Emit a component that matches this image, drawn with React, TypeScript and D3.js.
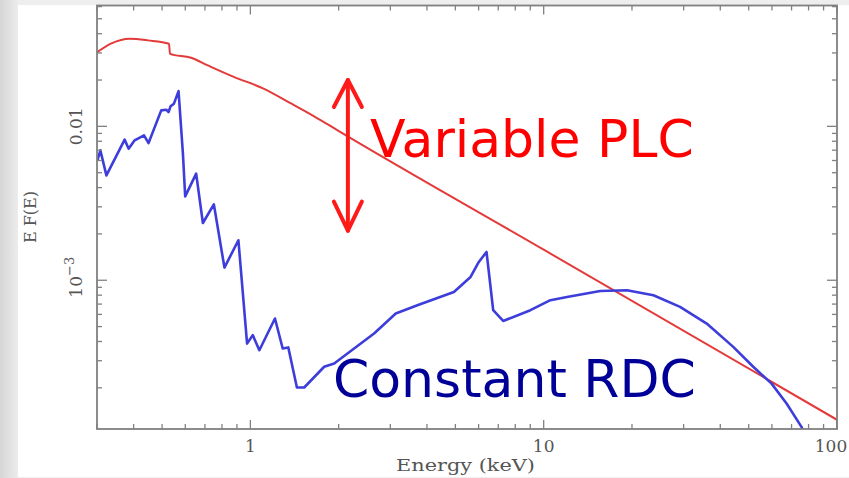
import { useMemo } from "react";
import * as d3 from "d3";

// spectrum: [energy keV, E F(E)]
const plcEnergy = [0.301, 0.336, 0.388, 0.448, 0.528, 0.532, 0.628, 0.716, 0.882, 1.104, 1.375, 1.65, 1.983, 10, 100];
const plcFlux = [0.0304, 0.0346, 0.0371, 0.0362, 0.0344, 0.0296, 0.0279, 0.0249, 0.0209, 0.01766, 0.0141, 0.01162, 0.00942, 0.00158, 1.24e-4];

const rdcEnergy = [
  0.301, 0.308, 0.323, 0.3727, 0.3846, 0.4031, 0.4338, 0.4497, 0.4967, 0.5166, 0.5261, 0.5344, 0.5488, 0.569,
  0.5889, 0.5995, 0.6535, 0.6888, 0.7507, 0.8159, 0.9103, 0.9745, 1.019, 1.073, 1.213, 1.289, 1.347, 1.441,
  1.526, 1.785, 1.931, 2.258, 2.641, 3.131, 3.71, 4.942, 5.633, 6.01, 6.384, 6.55, 6.727, 7.276, 9.01, 10.54,
  12.01, 15.59, 19.22, 23.67, 29.17, 35.96, 44.29, 51.81, 59.84, 67.31, 75.66, 80.7,
];
const rdcFlux = [
  0.00601, 0.00699, 0.0048, 0.0082, 0.00716, 0.00811, 0.00874, 0.00779, 0.0127, 0.01283, 0.01239, 0.01349,
  0.01404, 0.01695, 0.00665, 0.00351, 0.00493, 0.002356, 0.003114, 0.001209, 0.001819, 0.000388, 0.00044,
  0.000351, 0.000564, 0.00036, 0.000366, 0.000201, 0.000201, 0.000274, 0.000288, 0.00036, 0.000451, 0.000608,
  0.000688, 0.000839, 0.00105, 0.001315, 0.001527, 0.001, 0.000639, 0.000544, 0.000639, 0.000742, 0.000779,
  0.000852, 0.000861, 0.000799, 0.000671, 0.000523, 0.000369, 0.000274, 0.000213, 0.000158, 0.0001115, 0.000085,
];

const xDomain = [0.3, 100];
const yDomain = [1.08e-4, 0.061];
const xTickLabels = [
  { v: 1, t: "1" },
  { v: 10, t: "10" },
  { v: 100, t: "100" },
];
// variability arrow (energy, top flux, bottom flux)
const arrowE = 2.15;
const arrowFlux = [0.02, 0.0021];

const W = 849;
const H = 478;
const L = 97, R = 837, T = 5.5, B = 429;

export default function App() {
  const x = useMemo(() => d3.scaleLog().domain(xDomain).range([L, R]), []);
  const y = useMemo(() => d3.scaleLog().domain(yDomain).range([B, T]), []);

  const plc = plcEnergy.map((e, i) => [e, plcFlux[i]] as [number, number]);
  const rdc = rdcEnergy.map((e, i) => [e, rdcFlux[i]] as [number, number]);

  const lineSmooth = d3
    .line<[number, number]>()
    .x((d) => x(d[0]))
    .y((d) => y(d[1]))
    .curve(d3.curveMonotoneX);
  const lineSharp = d3
    .line<[number, number]>()
    .x((d) => x(d[0]))
    .y((d) => y(d[1]));

  const isMajor = (v: number) => Math.abs(Math.log10(v) - Math.round(Math.log10(v))) < 1e-6;
  const xt = x.ticks().filter((v) => v >= xDomain[0] && v <= xDomain[1]);
  const yt = y.ticks().filter((v) => v >= yDomain[0] && v <= yDomain[1]);

  const axisColor = "#808080";
  const labelColor = "#555";
  const ax = x(arrowE);
  const ay0 = y(arrowFlux[0]);
  const ay1 = y(arrowFlux[1]);

  return (
    <div style={{ position: "absolute", left: 0, top: 0 }}>
      <svg width={W} height={H} style={{ display: "block" }}>
        <defs>
          <linearGradient id="edge" x1="0" x2="1" y1="0" y2="0">
            <stop offset="0" stopColor="#d6d6d6" />
            <stop offset="1" stopColor="#ececec" />
          </linearGradient>
          <clipPath id="plot">
            <rect x={L} y={T} width={R - L} height={B - T} />
          </clipPath>
        </defs>
        <rect width={W} height={H} fill="#eeeeee" />
        <rect width={18} height={H} fill="url(#edge)" />
        <rect x={18} y={5} width={W - 18} height={472} fill="#ffffff" />

        {/* curves */}
        <g clipPath="url(#plot)" fill="none" strokeLinejoin="round">
          <path d={lineSmooth(plc) || ""} stroke="#e43a3a" strokeWidth={2} />
          <path d={lineSharp(rdc) || ""} stroke="#3d3ddc" strokeWidth={2.6} />
        </g>

        {/* frame */}
        <rect x={L} y={T} width={R - L} height={B - T} fill="none" stroke={axisColor} strokeWidth={1.8} />
        <g stroke={axisColor} strokeWidth={1.3}>
          {xt.map((v, i) => {
            const len = isMajor(v) ? 9 : 5;
            return (
              <g key={"x" + i}>
                <line x1={x(v)} x2={x(v)} y1={B} y2={B - len} />
                <line x1={x(v)} x2={x(v)} y1={T} y2={T + len} />
              </g>
            );
          })}
          {yt.map((v, i) => {
            const len = isMajor(v) ? 10 : 5;
            return (
              <g key={"y" + i}>
                <line x1={L} x2={L + len} y1={y(v)} y2={y(v)} />
                <line x1={R} x2={R - len} y1={y(v)} y2={y(v)} />
              </g>
            );
          })}
        </g>

        {/* axis labels */}
        <g fontFamily="'DejaVu Serif', serif" fill={labelColor} fontSize={17}>
          {xTickLabels.map((d) => (
            <text key={d.t} x={d.v === 100 ? x(d.v) - 6 : x(d.v)} y={452} textAnchor="middle">
              {d.t}
            </text>
          ))}
          <text x={465.5} y={471} textAnchor="middle" textLength={139} lengthAdjust="spacingAndGlyphs">
            Energy (keV)
          </text>
          <text transform={`translate(82,${y(0.01)}) rotate(-90)`} textAnchor="middle">
            0.01
          </text>
          <text transform={`translate(82,${y(0.001) - 3}) rotate(-90)`} textAnchor="middle">
            10
            <tspan fontSize={13} dy={-8}>
              −3
            </tspan>
          </text>
          <text transform="translate(36,217) rotate(-90)" textAnchor="middle" fontSize={16}>
            E F(E)
          </text>
        </g>

        {/* variability arrow */}
        <g stroke="#ff1a1a" strokeWidth={4} fill="none" strokeLinecap="round" strokeLinejoin="round">
          <line x1={ax} x2={ax} y1={ay0} y2={ay1} />
          <polyline points={`${ax - 14},${ay0 + 27} ${ax},${ay0} ${ax + 14},${ay0 + 27}`} />
          <polyline points={`${ax - 14},${ay1 - 29} ${ax},${ay1} ${ax + 14},${ay1 - 29}`} />
        </g>

        <g fontFamily="'DejaVu Sans', sans-serif" fontSize={52}>
          <text x={370} y={157} fill="#ff0000">
            Variable PLC
          </text>
          <text x={333} y={397} fill="#000099">
            Constant RDC
          </text>
        </g>
      </svg>
    </div>
  );
}
